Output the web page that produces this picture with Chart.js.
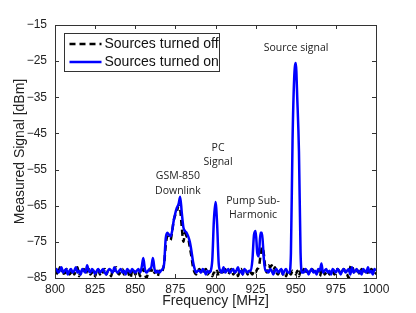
<!DOCTYPE html>
<html>
<head>
<meta charset="utf-8">
<script src="https://cdn.jsdelivr.net/npm/chart.js@4/dist/chart.umd.min.js"></script>
<style>
  body { margin: 0; background: #fff; }
  #wrap { width: 416px; height: 313px; position: relative; }
</style>
</head>
<body>
<div id="wrap"><canvas id="chart"></canvas></div>
<script>
'use strict';

/*** DATA ***/

// frequency grid [MHz], one point per MHz
var freq = [
  800, 801, 802, 803, 804, 805, 806, 807, 808, 809,
  810, 811, 812, 813, 814, 815, 816, 817, 818, 819,
  820, 821, 822, 823, 824, 825, 826, 827, 828, 829,
  830, 831, 832, 833, 834, 835, 836, 837, 838, 839,
  840, 841, 842, 843, 844, 845, 846, 847, 848, 849,
  850, 851, 852, 853, 854, 855, 856, 857, 858, 859,
  860, 861, 862, 863, 864, 865, 866, 867, 868, 869,
  870, 871, 872, 873, 874, 875, 876, 877, 878, 879,
  880, 881, 882, 883, 884, 885, 886, 887, 888, 889,
  890, 891, 892, 893, 894, 895, 896, 897, 898, 899,
  900, 901, 902, 903, 904, 905, 906, 907, 908, 909,
  910, 911, 912, 913, 914, 915, 916, 917, 918, 919,
  920, 921, 922, 923, 924, 925, 926, 927, 928, 929,
  930, 931, 932, 933, 934, 935, 936, 937, 938, 939,
  940, 941, 942, 943, 944, 945, 946, 947, 948, 949,
  950, 951, 952, 953, 954, 955, 956, 957, 958, 959,
  960, 961, 962, 963, 964, 965, 966, 967, 968, 969,
  970, 971, 972, 973, 974, 975, 976, 977, 978, 979,
  980, 981, 982, 983, 984, 985, 986, 987, 988, 989,
  990, 991, 992, 993, 994, 995, 996, 997, 998, 999,
  1000
];

// measured signal [dBm] with sources off (black dashed)
var sourcesOff = [
  -82.5, -83.5, -84, -82, -83.5, -83, -84.5, -82.5, -83, -84,
  -83.5, -82.5, -84, -83, -82, -84.5, -83, -83.5, -82.5, -84,
  -83, -82.5, -84, -83.5, -83, -84.5, -83, -82.5, -84, -83,
  -83.5, -82.5, -84, -83, -83.5, -84.5, -82.5, -83, -82, -83.5,
  -84, -83, -82.5, -84, -83.5, -83, -84, -85, -83, -82.5,
  -84, -83.5, -83, -84.5, -83, -82.5, -84, -85, -83.5, -83,
  -82.5, -84, -83.5, -83, -84.5, -83, -83.5, -83, -81, -76,
  -73.5, -74, -74.5, -72, -69, -67.5, -66.5, -65, -66, -71,
  -75, -72.5, -73.5, -74, -76.5, -79, -82, -83.5, -84, -83,
  -82.5, -83.5, -84, -83, -82.5, -84, -83.5, -83, -84.5, -83.5,
  -84, -83, -84.5, -83.5, -83, -84, -82.5, -83.5, -84, -83,
  -82.5, -84, -83.5, -83, -84.5, -83, -82.5, -84, -83.5, -83,
  -84, -83, -83.5, -84, -83, -83.5, -82.5, -82, -79, -76.5,
  -78, -82, -83.5, -81.5, -82, -81.5, -83, -82, -83.5, -84,
  -83, -82.5, -84, -83.5, -84.5, -83, -83.5, -84, -83, -83.5,
  -84, -83, -84.5, -83, -83.5, -82.5, -84, -83, -83.5, -84,
  -82.5, -83, -84, -83.5, -83, -84.5, -83, -82.5, -84, -83.5,
  -83, -84, -82.5, -83, -84, -83.5, -82.5, -83, -84, -83,
  -82.5, -83.5, -84, -85, -82, -81.5, -83, -84, -83.5, -83,
  -84, -82.5, -83.5, -84, -83, -83.5, -84, -82.5, -83, -84,
  -83.5
];

// measured signal [dBm] with sources on (blue solid)
var sourcesOn = [
  -83, -82.5, -83.5, -83, -82, -83.5, -83, -82.5, -84, -83,
  -82.5, -83.5, -83, -82, -83.5, -83, -84, -82.5, -83, -83.5,
  -81.5, -83, -83.5, -82.5, -83, -84, -83, -82.5, -83.5, -83,
  -82.5, -83.5, -84, -83, -82.5, -83, -83.5, -82, -83, -83.5,
  -83, -82.5, -83.5, -83, -84, -82.5, -83, -83.5, -82.5, -83,
  -83.5, -83, -82.5, -83.5, -82, -79.5, -82.5, -83.5, -83, -82.5,
  -82, -79.5, -82.5, -83.5, -83, -83.5, -83, -82.5, -81, -74,
  -72.5, -73, -73.5, -72, -69, -67, -65.5, -64.5, -62.5, -67,
  -71, -72, -72.5, -73.5, -75, -77.5, -80.5, -82.5, -83.5, -83,
  -83, -83.5, -82.5, -83, -84, -83, -83.5, -83, -80, -69,
  -64, -70, -81, -83, -83.5, -82, -83.5, -83, -82.5, -83.5,
  -83, -82.5, -83.5, -83, -82, -83.5, -83, -84, -82.5, -83,
  -83.5, -83, -83, -80, -73, -72, -78, -79, -72.5, -72.5,
  -79, -83, -83, -83.5, -82.5, -83, -84, -83, -82.5, -83.5,
  -83, -82.5, -84, -83, -82.5, -83.5, -83.5, -78, -47, -30,
  -25.5, -36, -50, -78, -83.5, -83.5, -82.5, -83, -84, -83,
  -82.5, -83.5, -83, -84, -82.5, -83, -81, -83.5, -83, -82.5,
  -83.5, -83, -84, -82.5, -83, -83.5, -82.5, -83, -84, -83,
  -82.5, -83.5, -83, -82.5, -84, -82, -83.5, -83, -82.5, -83.5,
  -83, -84, -82.5, -83, -83.5, -82, -83.5, -83, -84, -82.5,
  -83
];

var seriesNames = ['Sources turned off', 'Sources turned on'];

// axis ticks
var xTicks = [800, 825, 850, 875, 900, 925, 950, 975, 1000];
var yTicks = [-85, -75, -65, -55, -45, -35, -25, -15];

// text labels on the plot, anchored at [MHz, dBm]
var noteLines = [
  ['Source signal', 950.2, -21.3],
  ['PC', 901.6, -48.9],
  ['Signal', 901.6, -53],
  ['GSM-850', 876.6, -56.9],
  ['Downlink', 876.6, -61],
  ['Pump Sub-', 923.4, -63.8],
  ['Harmonic', 923.4, -67.7]
];

/*** HELPERS ***/

function toPoints(xs, ys) {
  var pts = [];
  for (var i = 0; i < xs.length; i++) {
    pts.push({ x: xs[i], y: ys[i] });
  }
  return pts;
}

// plain numbers, real minus sign, no thousands separator
function tickText(v) {
  return v < 0 ? '\u2212' + Math.abs(v) : String(v);
}

var AXIS_COLOR = '#333';
var FONT = '"Liberation Sans", Arial, sans-serif';

// box around the plot with matlab style inward ticks
var framePlugin = {
  id: 'frame',
  afterDatasetsDraw: function(chart) {
    var ctx = chart.ctx;
    var a = chart.chartArea;
    var xs = chart.scales.x;
    var ys = chart.scales.y;
    var len = 4;
    ctx.save();
    ctx.strokeStyle = AXIS_COLOR;
    ctx.lineWidth = 1;
    ctx.beginPath();
    for (var i = 0; i < xTicks.length; i++) {
      var px = Math.round(xs.getPixelForValue(xTicks[i])) + 0.5;
      ctx.moveTo(px, a.bottom); ctx.lineTo(px, a.bottom - len);
      ctx.moveTo(px, a.top); ctx.lineTo(px, a.top + len);
    }
    for (var j = 0; j < yTicks.length; j++) {
      var py = Math.round(ys.getPixelForValue(yTicks[j])) + 0.5;
      ctx.moveTo(a.left, py); ctx.lineTo(a.left + len, py);
      ctx.moveTo(a.right, py); ctx.lineTo(a.right - len, py);
    }
    ctx.stroke();
    ctx.strokeRect(Math.round(a.left) + 0.5, Math.round(a.top) + 0.5,
      Math.round(a.right - a.left), Math.round(a.bottom - a.top));
    ctx.restore();
  }
};

// annotations and legend box
var notesPlugin = {
  id: 'notes',
  afterDraw: function(chart) {
    var ctx = chart.ctx;
    var a = chart.chartArea;
    var xs = chart.scales.x;
    var ys = chart.scales.y;
    ctx.save();

    ctx.fillStyle = '#222';
    ctx.font = '10.5px "Open Sans", sans-serif';
    ctx.textAlign = 'center';
    ctx.textBaseline = 'middle';
    for (var i = 0; i < noteLines.length; i++) {
      ctx.fillText(noteLines[i][0], xs.getPixelForValue(noteLines[i][1]), ys.getPixelForValue(noteLines[i][2]));
    }

    // legend
    var bx = Math.round(a.left) + 9.5;
    var by = Math.round(a.top) + 8.5;
    var bw = 155;
    var bh = 38;
    ctx.fillStyle = '#fff';
    ctx.fillRect(bx, by, bw, bh);
    ctx.strokeStyle = AXIS_COLOR;
    ctx.lineWidth = 1;
    ctx.strokeRect(bx, by, bw, bh);
    var sets = chart.data.datasets;
    ctx.font = '14px ' + FONT;
    ctx.textAlign = 'left';
    for (var k = 0; k < sets.length; k++) {
      var ly = by + 10.5 + k * 18;
      ctx.strokeStyle = sets[k].borderColor;
      ctx.lineWidth = sets[k].borderWidth;
      ctx.setLineDash(sets[k].borderDash || []);
      ctx.beginPath();
      ctx.moveTo(bx + 5, ly);
      ctx.lineTo(bx + 37, ly);
      ctx.stroke();
      ctx.setLineDash([]);
      ctx.fillStyle = '#111';
      ctx.fillText(sets[k].label, bx + 40, ly + 0.5);
    }
    ctx.restore();
  }
};

/*** CHART ***/

var ctx = document.getElementById('chart').getContext('2d');
var chart = new Chart(ctx, {
  type: 'line',
  data: {
    datasets: [{
      label: seriesNames[0],
      data: toPoints(freq, sourcesOff),
      borderColor: '#000',
      borderWidth: 2.5,
      borderDash: [6, 4],
      pointRadius: 0,
      cubicInterpolationMode: 'monotone',
      order: 1
    }, {
      label: seriesNames[1],
      data: toPoints(freq, sourcesOn),
      borderColor: '#0000ff',
      borderWidth: 2.5,
      pointRadius: 0,
      cubicInterpolationMode: 'monotone',
      order: 0
    }]
  },
  options: {
    responsive: true,
    maintainAspectRatio: false,
    animation: false,
    layout: { padding: { top: 25, right: 40, left: 0, bottom: 0 } },
    plugins: {
      legend: { display: false },
      tooltip: { enabled: false }
    },
    scales: {
      x: {
        type: 'linear',
        min: 800,
        max: 1000,
        afterBuildTicks: function(scale) {
          scale.ticks = xTicks.map(function(v) { return { value: v }; });
        },
        afterFit: function(scale) { scale.height = 35; },
        grid: { display: false, drawTicks: false },
        border: { display: false },
        ticks: {
          padding: 4, color: '#222', maxRotation: 0,
          font: { family: FONT, size: 12 },
          callback: tickText
        },
        title: {
          display: true,
          text: 'Frequency [MHz]',
          color: '#222',
          font: { family: FONT, size: 14 },
          padding: { top: 0, bottom: 3 }
        }
      },
      y: {
        type: 'linear',
        min: -85,
        max: -15,
        afterBuildTicks: function(scale) {
          scale.ticks = yTicks.map(function(v) { return { value: v }; });
        },
        afterFit: function(scale) { scale.width = 55; },
        grid: { display: false, drawTicks: false },
        border: { display: false },
        ticks: {
          padding: 8, color: '#222',
          font: { family: FONT, size: 12 },
          callback: tickText
        },
        title: {
          display: true,
          text: 'Measured Signal [dBm]',
          color: '#222',
          font: { family: FONT, size: 14 },
          padding: { top: 12, bottom: 0 }
        }
      }
    }
  },
  plugins: [framePlugin, notesPlugin]
});
</script>
</body>
</html>
